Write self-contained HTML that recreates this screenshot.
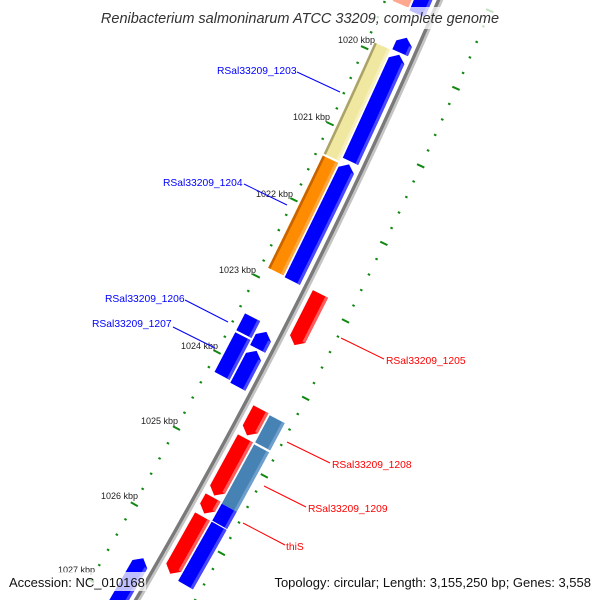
<!DOCTYPE html>
<html><head><meta charset="utf-8"><style>
html,body{margin:0;padding:0;background:#fff;overflow:hidden;width:600px;height:600px;}
svg{display:block;overflow:hidden;}
</style></head><body>
<svg id="s" width="600" height="600" viewBox="0 0 600 600" xmlns="http://www.w3.org/2000/svg" font-family="Liberation Sans, sans-serif">
<g id="feat"></g>
<g id="ticks"></g>
<g id="lbl" font-size="9" fill="#222">
<text x="375" y="43" text-anchor="end">1020 kbp</text>
<text x="330" y="120" text-anchor="end">1021 kbp</text>
<text x="293" y="197" text-anchor="end">1022 kbp</text>
<text x="256" y="273" text-anchor="end">1023 kbp</text>
<text x="218" y="349" text-anchor="end">1024 kbp</text>
<text x="178" y="424" text-anchor="end">1025 kbp</text>
<text x="138" y="499" text-anchor="end">1026 kbp</text>
<text x="95" y="573" text-anchor="end">1027 kbp</text>
</g>
<g font-size="10.3">
<g fill="#0000ff" stroke="none">
<text x="217" y="74">RSal33209_1203</text>
<text x="163" y="186">RSal33209_1204</text>
<text x="105" y="302">RSal33209_1206</text>
<text x="92" y="327">RSal33209_1207</text>
</g>
<g stroke="#0000ff" stroke-width="1">
<line x1="297" y1="72" x2="340" y2="92"/>
<line x1="244" y1="184" x2="287" y2="205"/>
<line x1="185" y1="300" x2="228" y2="322"/>
<line x1="173" y1="327" x2="215" y2="348"/>
</g>
<g fill="#ff0000">
<text x="386" y="364">RSal33209_1205</text>
<text x="332" y="468">RSal33209_1208</text>
<text x="308" y="512">RSal33209_1209</text>
<text x="286" y="550">thiS</text>
</g>
<g stroke="#ff0000" stroke-width="1">
<line x1="341" y1="338" x2="384" y2="359"/>
<line x1="287" y1="442" x2="330" y2="463"/>
<line x1="264" y1="486" x2="306" y2="507"/>
<line x1="243" y1="523" x2="285" y2="545"/>
</g>
</g>
<rect x="84" y="7" width="432" height="22" fill="rgba(255,255,255,0.75)"/>
<text x="300" y="23" text-anchor="middle" font-size="14.5" font-style="italic" fill="#333">Renibacterium salmoninarum ATCC 33209, complete genome</text>
<rect x="5" y="572" width="141" height="19" fill="rgba(255,255,255,0.75)"/>
<text x="9" y="587" font-size="13" fill="#111">Accession: NC_010168</text>
<rect x="257" y="572" width="338" height="19" fill="rgba(255,255,255,0.75)"/>
<text x="591" y="587" text-anchor="end" font-size="13" fill="#111">Topology: circular; Length: 3,155,250 bp; Genes: 3,558</text>
</svg>
<script>
(function(){
var NS="http://www.w3.org/2000/svg";
function xg(t){return 440-0.428*t-0.000128*t*t;}
function N(t){var s=-0.428-0.000256*t;var n=Math.sqrt(1+s*s);return[-1/n,s/n];}
function P(t,h){var n=N(t);return[xg(t)+h*n[0],t+h*n[1]];}
function poly(g,pts,fill){var p=document.createElementNS(NS,"polygon");
p.setAttribute("points",pts.map(function(a){return a[0].toFixed(2)+","+a[1].toFixed(2);}).join(" "));
p.setAttribute("fill",fill);g.appendChild(p);}
function band(t1,t2,a,b,steps){var pts=[],i,t;steps=steps||8;
for(i=0;i<=steps;i++){t=t1+(t2-t1)*i/steps;pts.push(P(t,a));}
for(i=steps;i>=0;i--){t=t1+(t2-t1)*i/steps;pts.push(P(t,b));}return pts;}
var F=document.getElementById("feat");
function feat(t1,t2,a,b,c,arr,light,dark){
var hl=6,m=(a+b)/2,pts;
if(arr=="up"){pts=[P(t1,m),P(t1+hl,b),P(t2,b),P(t2,a),P(t1+hl,a)];}
else if(arr=="down"){pts=[P(t1,a),P(t1,b),P(t2-hl,b),P(t2,m),P(t2-hl,a)];}
else pts=[P(t1,a),P(t1,b),P(t2,b),P(t2,a)];
poly(F,pts,c);
var s1=arr=="up"?t1+hl:t1, s2=arr=="down"?t2-hl:t2;
if(light){poly(F,band(s1,s2,a,a+3,4),light);}
if(dark){poly(F,band(s1,s2,b-2.5,b,4),dark);}
}
var BL="#0000ff",BLl="#4848ff",RD="#ff0000",RDl="#ff5c5c",SB="#4682b4",SBl="#6e9fcc";
poly(F,band(-20,615,-0.5,3,30),"#7a7a7a");
poly(F,band(-20,615,-3,-0.5,30),"#c4c4c4");
feat(-20,20,7,24,BL,null,BLl);
feat(44,59,7,24,BL,"up",BLl);
feat(61,168,7,24,BL,"up",BLl);
feat(171,288,7,24,BL,"up",BLl);
feat(339,356,7,24,BL,"up",BLl);
feat(358,394,7,24,BL,"up",BLl);
feat(566,615,7,24,BL,"up",BLl);
feat(-20,6,26,43,"#ff3fa0",null);
feat(6,11,26,43,"#ff9a30",null);
feat(11,18,26,43,"#ffa890",null);
feat(60,172,26,43,"#f0e8a0",null,"#f6f0c0","#aaa26a");
feat(174,287,26,43,"#ff8c00",null,"#ffa840","#c86400");
feat(333,350,26,43,BL,null,BLl);
feat(352,392,26,43,BL,null,BLl);
feat(287,338,-24,-7,RD,"down",RDl);
feat(402,428,-24,-7,RD,"down",RDl);
feat(431,488,-24,-7,RD,"down",RDl);
feat(490,506,-24,-7,RD,"down",RDl);
feat(509,566,-24,-7,RD,"down",RDl);
feat(403,430,-43,-26,SB,null,SBl);
feat(432,491,-43,-26,SB,null,SBl);
feat(491,508,-43,-26,BL,null,BLl);
feat(509,568,-43,-26,BL,null,BLl);
var T=document.getElementById("ticks");
function line(p,q,w){var l=document.createElementNS(NS,"line");
l.setAttribute("x1",p[0]);l.setAttribute("y1",p[1]);l.setAttribute("x2",q[0]);l.setAttribute("y2",q[1]);
l.setAttribute("stroke","#118811");l.setAttribute("stroke-width",w);T.appendChild(l);}
for(var k=-6;k<=38;k++){var t=68+15.36*k;if(t<-30||t>620)continue;
var maj=(k%5==0);
if(maj){line(P(t,46),P(t,54),2);line(P(t,-46),P(t,-54),2);}
else{line(P(t,49),P(t,51.5),2);line(P(t,-49),P(t,-51.5),2);}
}
})();
</script>
</body></html>
